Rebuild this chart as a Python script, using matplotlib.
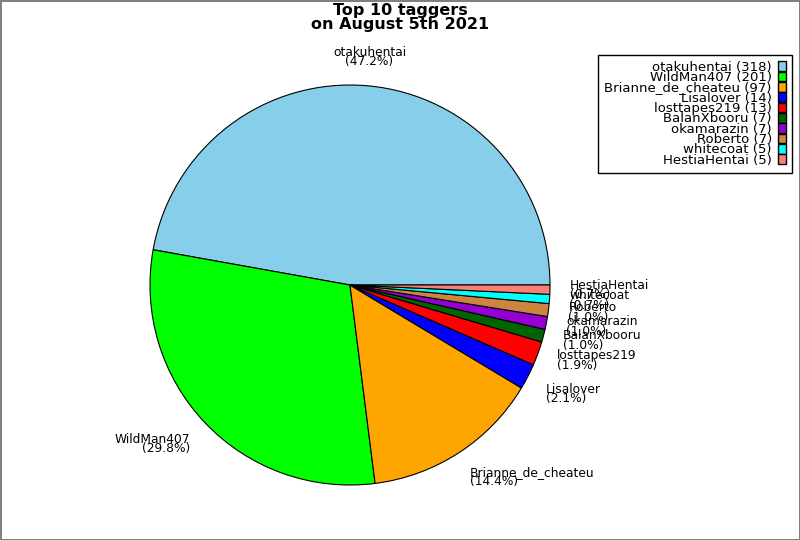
import matplotlib.pyplot as plt
from matplotlib import patches
from matplotlib.transforms import ScaledTranslation

names = ["otakuhentai", "WildMan407", "Brianne_de_cheateu", "Lisalover", "losttapes219",
         "BalanXbooru", "okamarazin", "Roberto", "whitecoat", "HestiaHentai"]
counts = [318, 201, 97, 14, 13, 7, 7, 7, 5, 5]
colors = ["skyblue", "lime", "orange", "blue", "red", "darkgreen",
          "darkviolet", "peru", "cyan", "salmon"]

total = sum(counts)
labels = [f"{n}\n({c / total * 100:.1f}%)" for n, c in zip(names, counts)]

fig = plt.figure(figsize=(8, 5.4), dpi=100, edgecolor="gray", linewidth=2)
ax = fig.add_axes([0.125, 0.00926, 0.625, 0.9259])

wedges, texts = ax.pie(counts, labels=labels, colors=colors, startangle=0,
                       labeldistance=1.1,
                       wedgeprops={"edgecolor": "black", "linewidth": 0.8},
                       textprops={"fontsize": 8.8, "linespacing": 0.66})
ax.set_aspect("equal")
texts[0].set_ha("center")
texts[0].set_multialignment("center")

# push the big-slice labels a little further out vertically (in points)
nudge = {0: 6.5, 1: -5.5, 2: -5.5, 3: -6}
for i, dy in nudge.items():
    texts[i].set_transform(ax.transData + ScaledTranslation(0, dy / 72, fig.dpi_scale_trans))

fig.suptitle("Top 10 taggers\non August 5th 2021", fontsize=11.5,
             fontweight="bold", y=0.995, linespacing=0.9)

legend_elements = [
    patches.Patch(facecolor=c, edgecolor="black", label=f"{n} ({v})")
    for n, v, c in zip(names, counts, colors)
]
legend = fig.legend(handles=legend_elements, loc="upper right",
                    bbox_to_anchor=(0.9985, 0.911), fontsize=9.5,
                    markerfirst=False, alignment="right", labelspacing=-0.2,
                    handlelength=0.6, handleheight=0.75, handletextpad=0.5,
                    borderpad=0.45, fancybox=False, framealpha=1)
legend.get_frame().set_edgecolor("black")
for t in legend.get_texts():
    t.set_ha("right")

fig.savefig("out.png")
